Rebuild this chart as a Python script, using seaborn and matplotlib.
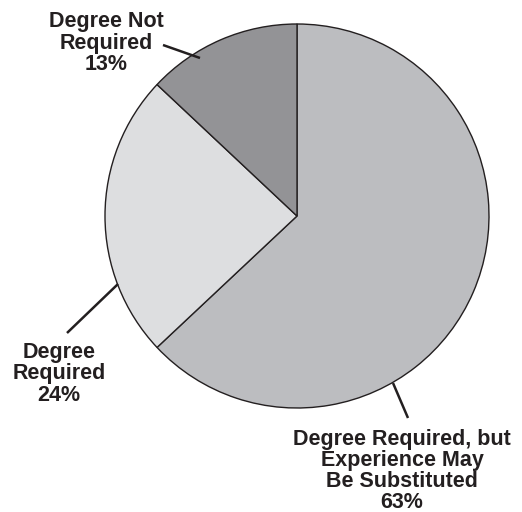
import matplotlib
matplotlib.use("Agg")
import matplotlib.pyplot as plt
import seaborn as sns

categories = ["Degree Required, but\nExperience May\nBe Substituted", "Degree\nRequired", "Degree Not\nRequired"]
values = [63, 24, 13]
colors = ["#bcbdc0", "#dddee0", "#939396"]

sns.set_theme(style="white")
plt.rcParams['font.family'] = ['Liberation Sans', 'DejaVu Sans']

fig = plt.figure(figsize=(5.22, 5.12), dpi=100)
ax = fig.add_axes([0, 0, 1, 1])
CX, CY, R = 297, 216, 192

def px(x, y):
    return ((x - CX) / R, (CY - y) / R)

ax.pie(values, colors=colors, startangle=90, counterclock=False, radius=1,
       wedgeprops=dict(edgecolor="#231f20", linewidth=1.0))
ax.set_aspect("auto")
ax.set_xlim(-CX / R, (522 - CX) / R)
ax.set_ylim(-(512 - CY) / R, CY / R)
ax.axis("off")

txtc = "#231f20"
label_pos = [(402, 471), (59, 374), (106, 43)]
lines = [((393, 383), (408, 418)), ((118, 284), (67, 333)), ((200, 58), (163, 45))]
for cat, v, (tx, ty), (p1, p2) in zip(categories, values, label_pos, lines):
    x, y = px(tx, ty)
    ax.text(x, y, f"{cat}\n{v}%", ha="center", va="center", fontsize=15.5,
            fontweight="bold", color=txtc, linespacing=1.02)
    a = px(*p1); b = px(*p2)
    ax.plot([a[0], b[0]], [a[1], b[1]], color=txtc, lw=1.8, solid_capstyle="butt")

fig.savefig("out.png", dpi=100)
